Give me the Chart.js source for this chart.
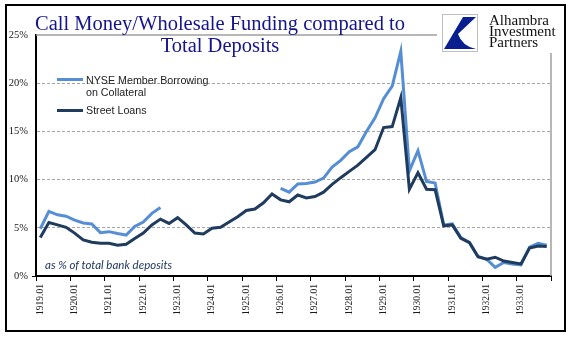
<!DOCTYPE html>
<html>
<head>
<meta charset="utf-8">
<script src="https://cdn.jsdelivr.net/npm/chart.js@4.4.1/dist/chart.umd.min.js"></script>
<style>
  body { margin: 0; background: #fff; }
  #wrap { position: relative; width: 577px; height: 341px; overflow: hidden; }
  #myChart { position: absolute; left: 0; top: 0; }
  .ov { position: absolute; pointer-events: none; }
  #frame { left: 5px; top: 4px; width: 557px; height: 324px; border: 2px solid #000; }
  #title { left: 20px; top: 12px; width: 400px; text-align: center; font: 20.5px "Liberation Serif", serif; line-height: 22px; color: #14148c; }
  #logoBg { left: 437px; top: 7px; width: 126px; height: 46px; background: #fff; }
  #logoBox { left: 442px; top: 14px; width: 34px; height: 36px; border: 1px solid #bfbfbf; background: #fff; }
  #logoText { left: 489px; top: 15px; font: 15px "Liberation Serif", serif; line-height: 10.75px; color: #111; }
  .swatch { height: 3px; width: 26px; left: 57px; }
  .legTxt { left: 86px; font: 10.7px "Liberation Sans", Arial, sans-serif; line-height: 11.7px; color: #222; white-space: nowrap; }
  #note { left: 45px; top: 258px; font: italic 11.5px Lato, sans-serif; color: #203864; white-space: nowrap; }
</style>
</head>
<body>
<div id="wrap">
  <canvas id="myChart" width="577" height="341"></canvas>
  <div class="ov" id="frame"></div>
  <div class="ov" id="title">Call Money/Wholesale Funding compared to<br>Total Deposits</div>
  <div class="ov" id="logoBg"></div>
  <div class="ov" id="logoBox">
    <svg width="34" height="36" viewBox="0 0 34 36">
      <path d="M20 2 L33 2 L15 19 Q19 31 33 34 L1 34 Z" fill="#0a1f8f"/>
    </svg>
  </div>
  <div class="ov" id="logoText">Alhambra<br>Investment<br>Partners</div>
  <div class="ov swatch" style="top:78px;background:#558ed5"></div>
  <div class="ov legTxt" style="top:75px">NYSE Member Borrowing<br>on Collateral</div>
  <div class="ov swatch" style="top:109px;background:#1f3b5e"></div>
  <div class="ov legTxt" style="top:104.5px">Street Loans</div>
  <div class="ov" id="note">as % of total bank deposits</div>
</div>
<script>
const years = [1919, 1920, 1921, 1922, 1923, 1924, 1925, 1926, 1927, 1928, 1929, 1930, 1931, 1932, 1933];
const months = ["01", "04", "07", "10"];
const yTicks = [0, 5, 10, 15, 20, 25];

// quarterly, % of total bank deposits
const nyseBorrowing = [
  4.9, 6.7, 6.35, 6.2, 5.8, 5.5, 5.4, 4.5, 4.6, 4.4, 4.25, 5.15, 5.6, 6.5, 7.1,
  null, null, null, null, null, null, null, null, null, null, null, null, null,
  9.1, 8.7, 9.55, 9.6, 9.75, 10.15, 11.3, 12.0, 12.9, 13.4, 15.0, 16.4, 18.4, 19.7, 23.3,
  10.9, 13.0, 9.8, 9.65, 5.3, 5.4, 4.0, 3.5, 2.0, 1.75, 0.9, 1.4, 1.25, 1.15, 3.0, 3.4, 3.2
];
const streetLoans = [
  4.0, 5.55, 5.3, 5.05, 4.45, 3.75, 3.5, 3.4, 3.4, 3.2, 3.3, 3.9, 4.45, 5.3, 5.9,
  5.45, 6.05, 5.3, 4.45, 4.35, 4.95, 5.05, 5.6, 6.15, 6.8, 6.95, 7.6, 8.5,
  7.9, 7.7, 8.4, 8.1, 8.25, 8.7, 9.5, 10.2, 10.85, 11.5, 12.3, 13.1, 15.4, 15.5, 18.5,
  9.0, 10.7, 9.0, 8.95, 5.2, 5.3, 3.9, 3.45, 2.0, 1.75, 1.95, 1.55, 1.4, 1.25, 2.9, 3.1, 3.05
];

const labels = [];
years.forEach(y => months.forEach(m => labels.push(y + "." + m)));

// gray frame on the top and right of the plot
const plotFrame = {
  id: "plotFrame",
  beforeDatasetsDraw(chart) {
    const { ctx, chartArea: a } = chart;
    ctx.save();
    ctx.strokeStyle = "#a0a0a0";
    ctx.lineWidth = 1.5;
    ctx.beginPath();
    ctx.moveTo(a.left, a.top);
    ctx.lineTo(a.right, a.top);
    ctx.lineTo(a.right, a.bottom);
    ctx.stroke();
    ctx.restore();
  }
};

const data = {
  labels: labels,
  datasets: [
    {
      label: "Street Loans",
      data: streetLoans,
      borderColor: "#1f3b5e",
      backgroundColor: "#1f3b5e",
      borderWidth: 3,
      pointRadius: 0,
      tension: 0
    },
    {
      label: "NYSE Member Borrowing on Collateral",
      data: nyseBorrowing,
      borderColor: "#558ed5",
      backgroundColor: "#558ed5",
      borderWidth: 3,
      pointRadius: 0,
      tension: 0,
      spanGaps: false
    }
  ]
};

const config = {
  type: "line",
  data: data,
  plugins: [plotFrame],
  options: {
    responsive: false,
    animation: false,
    layout: { padding: { top: 35, right: 26, left: 0, bottom: 0 } },
    plugins: { legend: { display: false }, tooltip: { enabled: false }, title: { display: false } },
    scales: {
      x: {
        offset: true,
        afterFit: (s) => { s.height = 65; },
        grid: {
          offset: true,
          drawOnChartArea: false,
          tickLength: 5,
          tickColor: (c) => (c.index === undefined || c.index % 4 === 0) ? "#000" : "rgba(0,0,0,0)",
          color: "rgba(0,0,0,0)"
        },
        border: { display: true, color: "#000", width: 2 },
        ticks: {
          autoSkip: false,
          minRotation: 90,
          maxRotation: 90,
          padding: 3,
          color: "#1a1a1a",
          font: { family: "Liberation Serif", size: 9.5 },
          callback: function (v, i) { return i % 4 === 0 ? this.getLabelForValue(v) : ""; }
        }
      },
      y: {
        min: 0,
        max: 25,
        afterFit: (s) => { s.width = 36; },
        afterBuildTicks: (s) => { s.ticks = yTicks.map(v => ({ value: v })); },
        grid: {
          color: (c) => (c.tick && c.tick.value > 0 && c.tick.value < 25) ? "#a6a6a6" : "rgba(0,0,0,0)",
          tickColor: (c) => (c.tick && c.tick.value === 0) ? "#000" : "rgba(0,0,0,0)",
          tickLength: 4,
          lineWidth: 1
        },
        border: { display: true, color: "#000", width: 2, dash: [3, 2] },
        ticks: {
          padding: 4,
          color: "#1a1a1a",
          font: { family: "Liberation Serif", size: 10.5 },
          callback: (v) => v + "%"
        }
      }
    }
  }
};

const myChart = new Chart(document.getElementById("myChart"), config);
</script>
</body>
</html>
